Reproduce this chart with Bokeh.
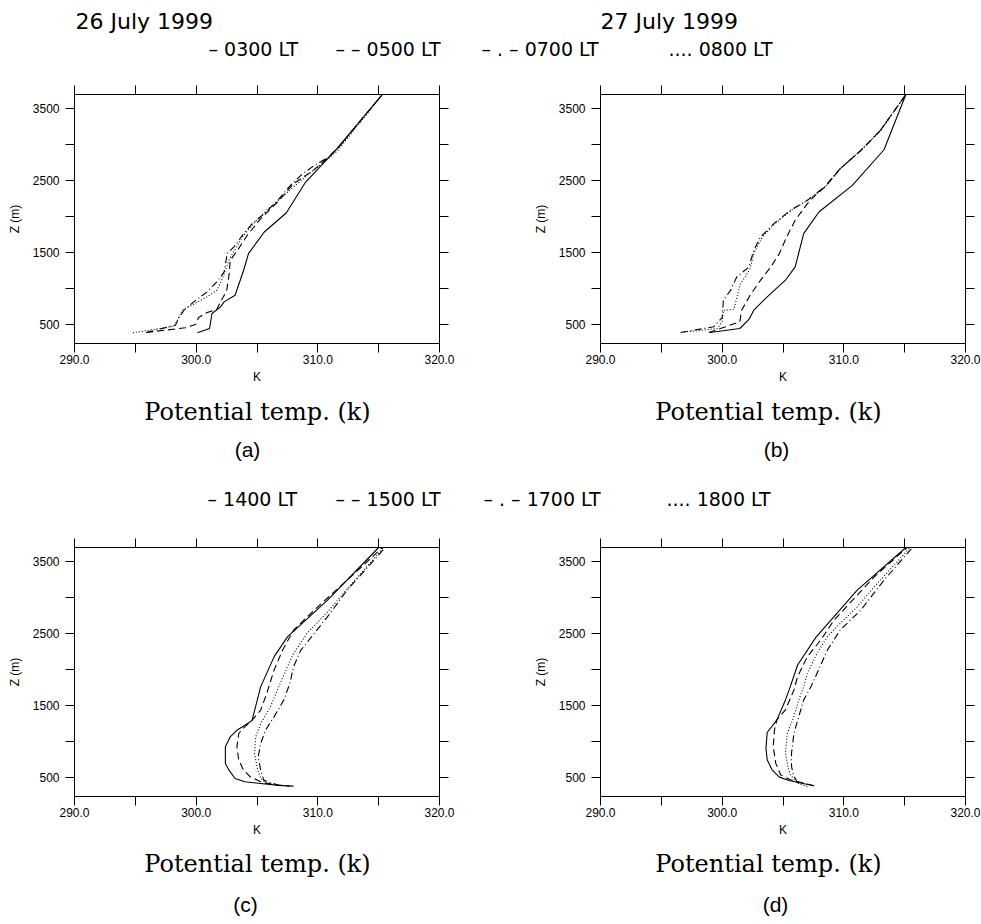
from bokeh.plotting import figure
from bokeh.models import Range1d, LinearAxis, FixedTicker, CustomJSTickFormatter
from bokeh.layouts import column, row
from bokeh.core.properties import value
from bokeh.embed import file_html
from bokeh.resources import INLINE

# ---------------- data (potential temperature K, height m) ----------------
X_TICKS = [290, 295, 300, 305, 310, 315, 320]
Y_TICKS = [500, 1000, 1500, 2000, 2500, 3000, 3500]

TITLES = ["26 July 1999", "27 July 1999"]
LEGEND_TOP = ["\u2013 0300 LT", "\u2013 \u2013 0500 LT", "\u2013 . \u2013 0700 LT", ".... 0800 LT"]
LEGEND_BOT = ["\u2013 1400 LT", "\u2013 \u2013 1500 LT", "\u2013 . \u2013 1700 LT", ".... 1800 LT"]
PANEL_LABELS = ["(a)", "(b)", "(c)", "(d)"]
XLABEL = "Potential temp. (k)"

# (a) 26 July, night/morning
a_0300_T = [300.1, 301.1, 301.3, 302.0, 302.3, 303.2, 303.9, 304.3, 305.6, 307.4, 309.0, 311.45, 315.3]
a_0300_z = [379, 439, 648, 741, 810, 903, 1251, 1483, 1784, 2049, 2480, 2921, 3700]
a_0500_T = [295.9, 299.1, 299.95, 300.2, 300.9, 301.7, 302.0, 302.5, 302.7, 302.8, 303.4, 304.2,
            305.3, 306.7, 308.0, 309.7, 310.8, 311.6, 315.3]
a_0500_z = [384, 449, 495, 592, 662, 704, 810, 963, 1181, 1390, 1529, 1738,
            1970, 2202, 2457, 2652, 2819, 2944, 3700]
a_0700_T = [295.9, 298.3, 298.6, 299.0, 299.8, 300.9, 301.7, 302.3, 302.55, 303.1, 303.8, 304.6,
            305.6, 306.7, 307.75, 308.6, 309.7, 310.8, 311.6, 315.3]
a_0700_z = [384, 486, 592, 694, 810, 950, 1089, 1228, 1483, 1576, 1738, 1900,
            2040, 2225, 2434, 2573, 2712, 2819, 2944, 3700]
a_0800_T = [294.8, 298.2, 298.85, 299.8, 300.9, 301.7, 302.1, 302.4, 302.7, 302.96, 303.8, 304.7,
            305.8, 306.9, 308.0, 309.3, 310.5, 311.6, 315.3]
a_0800_z = [379, 472, 694, 778, 880, 973, 1112, 1251, 1390, 1474, 1715, 1900,
            2086, 2248, 2411, 2596, 2758, 2912, 3700]

# (b) 27 July, night/morning
b_0300_T = [299.0, 301.45, 302.2, 302.6, 303.7, 305.2, 306.0, 306.7, 307.95, 310.7, 313.3, 315.1]
b_0300_z = [384, 439, 565, 694, 880, 1112, 1297, 1761, 2063, 2434, 2930, 3700]
b_0500_T = [298.9, 300.1, 301.45, 301.6, 302.3, 303.15, 304.0, 304.7, 305.3, 306.0, 307.0, 307.8,
            308.5, 309.7, 311.4, 313.0, 315.1]
b_0500_z = [384, 453, 532, 694, 903, 1112, 1297, 1483, 1715, 1947, 2179, 2318,
            2420, 2666, 2921, 3199, 3700]
b_0700_T = [296.6, 299.3, 300.0, 300.1, 300.7, 301.2, 302.2, 302.6, 303.15, 304.25, 305.6, 307.0,
            308.4, 309.7, 311.4, 313.0, 315.1]
b_0700_z = [384, 463, 592, 834, 973, 1158, 1297, 1529, 1715, 1900, 2086, 2225,
            2410, 2666, 2921, 3199, 3700]
b_0800_T = [296.6, 299.6, 300.0, 300.1, 300.96, 301.5, 301.9, 302.3, 302.6, 303.3, 304.4, 305.75,
            307.1, 308.4, 309.7, 311.4, 313.0, 315.1]
b_0800_z = [384, 439, 532, 694, 704, 1065, 1158, 1274, 1483, 1715, 1910, 2095,
            2234, 2401, 2666, 2921, 3190, 3700]

# (c) 26 July, afternoon
c_1400_T = [307.7, 306.6, 305.3, 304.0, 303.2, 302.7, 302.4, 302.4, 302.8, 303.35, 304.45, 304.6,
            305.3, 306.4, 307.5, 310.8, 315.0]
c_1400_z = [374, 388, 411, 435, 481, 597, 690, 922, 1062, 1154, 1271, 1294,
            1758, 2176, 2455, 2966, 3700]
c_1500_T = [308.0, 306.6, 305.3, 304.45, 303.9, 303.5, 303.35, 303.5, 304.0, 304.6, 305.3, 305.8,
            306.4, 307.1, 308.0, 309.7, 312.7, 315.3]
c_1500_z = [374, 388, 435, 504, 597, 736, 922, 1108, 1201, 1294, 1433, 1665,
            1991, 2269, 2548, 2827, 3291, 3700]
c_1700_T = [306.9, 305.55, 305.3, 305.1, 305.3, 305.7, 306.4, 307.2, 307.7, 308.0, 308.6, 309.7,
            311.0, 312.4, 315.55]
c_1700_z = [379, 458, 597, 783, 969, 1154, 1340, 1573, 1805, 2037, 2269, 2501,
            2780, 3105, 3700]
c_1800_T = [305.8, 305.3, 305.0, 304.8, 304.9, 305.3, 306.1, 306.9, 307.5, 308.0, 309.1, 310.8,
            312.1, 315.4]
c_1800_z = [411, 481, 644, 829, 1062, 1247, 1480, 1805, 2037, 2223, 2501, 2803,
            3059, 3700]

# (d) 27 July, afternoon
d_1400_T = [307.55, 306.45, 305.5, 304.7, 304.1, 303.7, 303.6, 303.7, 304.5, 305.2, 305.6, 306.2,
            307.7, 311.1, 315.1]
d_1400_z = [380, 417, 454, 500, 602, 742, 904, 1122, 1298, 1576, 1761, 2063,
            2448, 3106, 3700]
d_1500_T = [307.55, 306.7, 305.6, 304.8, 304.4, 304.2, 304.3, 304.5, 305.2, 305.9, 306.2, 307.0,
            308.1, 309.2, 312.5, 315.2]
d_1500_z = [380, 417, 463, 533, 695, 927, 1159, 1298, 1437, 1715, 1901, 2179,
            2411, 2689, 3291, 3700]
d_1700_T = [306.2, 305.85, 305.7, 305.7, 305.9, 306.3, 306.7, 307.3, 307.8, 308.65, 309.7, 311.4,
            313.3, 315.65]
d_1700_z = [417, 533, 649, 834, 1112, 1344, 1576, 1761, 1947, 2271, 2550, 2828,
            3245, 3700]
d_1800_T = [307.0, 306.2, 305.6, 305.4, 305.2, 305.35, 305.8, 306.3, 306.7, 307.0, 307.8, 308.65,
            309.7, 311.1, 312.5, 315.45]
d_1800_z = [370, 417, 533, 649, 834, 1112, 1298, 1576, 1761, 1947, 2225, 2457,
            2642, 2874, 3152, 3700]

DASHES = ["solid", "7 4", "7 3 1 3", "1 2"]

SANS = "Liberation Sans"
STROKE = "DejaVu Sans"
SERIF = "DejaVu Serif"

X_FMT = "return (Math.abs(tick % 10) < 1e-6) ? tick.toFixed(1) : '';"
Y_FMT = "return (Math.abs(tick % 1000 - 500) < 1e-6) ? tick.toFixed(0) : '';"
BLANK = "return '';"

PAGE_W = 981


def make_axis(ticks, code, labelled, axis_label=None):
    ax = LinearAxis(ticker=FixedTicker(ticks=ticks, minor_ticks=[]),
                    formatter=CustomJSTickFormatter(code=code if labelled else BLANK))
    ax.major_tick_out = 9
    ax.major_tick_in = 0
    ax.minor_tick_out = 0
    ax.minor_tick_in = 0
    ax.axis_line_color = "black"
    ax.axis_line_width = 1
    ax.major_tick_line_color = "black"
    ax.major_tick_line_width = 1
    ax.major_label_text_color = "black"
    ax.major_label_text_font = SANS
    if labelled:
        ax.major_label_text_font_size = "12px"
    else:
        ax.major_label_text_font_size = "1px"
        ax.major_label_standoff = 0
    if axis_label is not None:
        ax.axis_label = axis_label
        ax.axis_label_text_font = SANS
        ax.axis_label_text_font_size = "12px"
        ax.axis_label_text_font_style = "normal"
        ax.axis_label_text_color = "black"
    return ax


def panel(series, left, right, width):
    p = figure(width=width, height=312, x_range=Range1d(290, 320), y_range=Range1d(230, 3700),
               output_backend="svg", toolbar_location=None, x_axis_type=None, y_axis_type=None,
               min_border_left=left, min_border_right=right, min_border_top=14, min_border_bottom=49)
    p.outline_line_color = "black"
    p.outline_line_width = 1
    bx = make_axis(X_TICKS, X_FMT, True, "K")
    bx.major_label_standoff = 2
    bx.axis_label_standoff = 3
    p.add_layout(bx, "below")
    ly = make_axis(Y_TICKS, Y_FMT, True, "Z (m)")
    ly.major_label_standoff = 6
    ly.axis_label_standoff = 8
    p.add_layout(ly, "left")
    p.add_layout(make_axis(X_TICKS, X_FMT, False), "above")
    p.add_layout(make_axis(Y_TICKS, Y_FMT, False), "right")
    for (T, z), dash in zip(series, DASHES):
        p.line(T, z, line_color="black", line_width=1.1, line_dash=dash)
    return p


def text_fig(height, top):
    p = figure(width=PAGE_W, height=height, x_range=Range1d(0, PAGE_W), y_range=Range1d(top + height, top),
               output_backend="svg", toolbar_location=None, x_axis_type=None, y_axis_type=None,
               min_border=0, min_border_left=0, min_border_right=0, min_border_top=0, min_border_bottom=0)
    p.outline_line_color = None
    return p


def put(p, xs, ys, texts, font, size, align):
    p.text(x=xs, y=ys, text=texts, text_font=value(font), text_font_size=value(size),
           text_align=align, text_baseline="middle", text_color="black")


# header (page y 0..80)
hdr = text_fig(80, 0)
put(hdr, [75, 600], [21, 21], TITLES, STROKE, "22px", "left")
put(hdr, [208, 335, 481, 668], [48] * 4, LEGEND_TOP, STROKE, "19px", "left")

# top row (page y 80..392)
fa = panel([(a_0300_T, a_0300_z), (a_0500_T, a_0500_z), (a_0700_T, a_0700_z), (a_0800_T, a_0800_z)], 74, 81, 520)
fb = panel([(b_0300_T, b_0300_z), (b_0500_T, b_0500_z), (b_0700_T, b_0700_z), (b_0800_T, b_0800_z)], 80, 16, 461)

# middle text (page y 392..533)
mid = text_fig(141, 392)
put(mid, [257, 768], [411, 411], [XLABEL, XLABEL], SERIF, "24px", "center")
put(mid, [247, 776], [449, 449], PANEL_LABELS[:2], SANS, "21px", "center")
put(mid, [207, 335, 483, 666], [498] * 4, LEGEND_BOT, STROKE, "19px", "left")

# bottom row (page y 533..845)
fc = panel([(c_1400_T, c_1400_z), (c_1500_T, c_1500_z), (c_1700_T, c_1700_z), (c_1800_T, c_1800_z)], 74, 81, 520)
fd = panel([(d_1400_T, d_1400_z), (d_1500_T, d_1500_z), (d_1700_T, d_1700_z), (d_1800_T, d_1800_z)], 80, 16, 461)

# bottom text (page y 845..923)
bot = text_fig(78, 845)
put(bot, [257, 768], [863, 863], [XLABEL, XLABEL], SERIF, "24px", "center")
put(bot, [245, 775], [904, 904], PANEL_LABELS[2:], SANS, "21px", "center")

layout = column(hdr, row(fa, fb), mid, row(fc, fd), bot)

open("out.html", "w").write(file_html(layout, INLINE))
